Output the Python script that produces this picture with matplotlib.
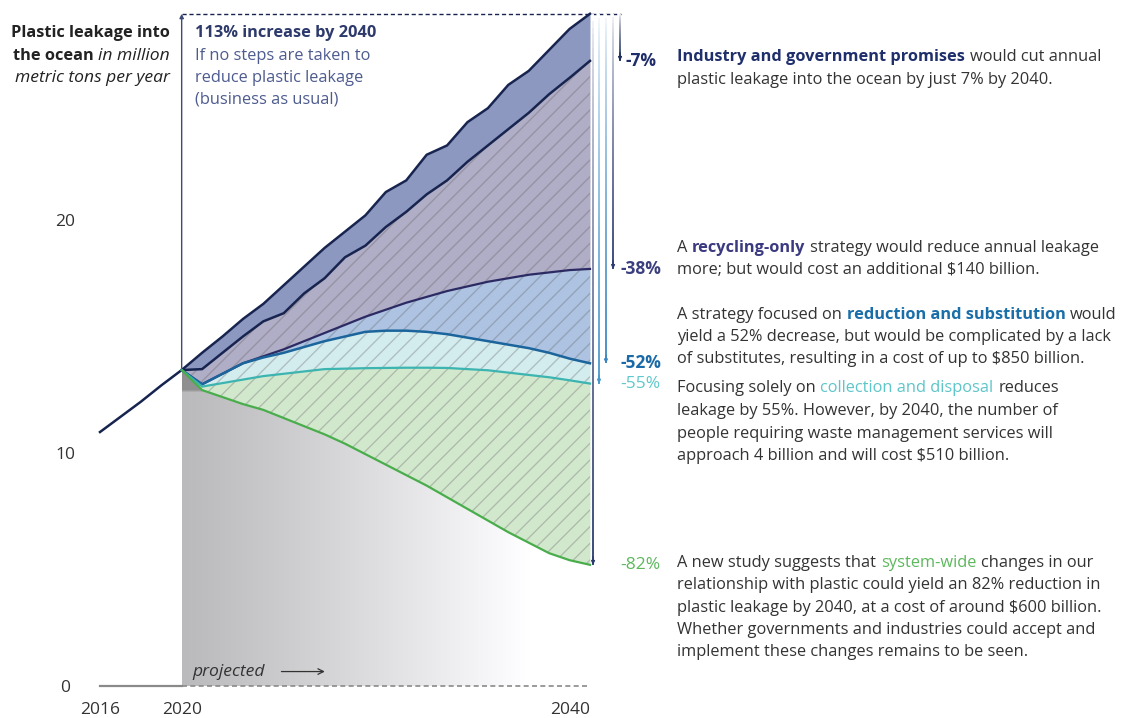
import numpy as np
import matplotlib
matplotlib.use("Agg")
import matplotlib.pyplot as plt
from matplotlib.collections import LineCollection
from matplotlib.colors import to_rgb
from matplotlib.patches import Polygon

# historical leakage, million metric tons per year
hist_years = [2016, 2017, 2018, 2019, 2020]
hist_values = [10.9, 11.55, 12.2, 12.9, 13.56]

# projections 2020-2040
years = list(range(2020, 2041))
bau = [13.56, 14.3, 15.0, 15.75, 16.4, 17.2, 18.0, 18.8, 19.5, 20.2, 21.2,
       21.7, 22.8, 23.2, 24.2, 24.8, 25.8, 26.4, 27.3, 28.2, 28.85]
industry = [13.56, 13.6, 14.3, 15.0, 15.65, 16.0, 16.85, 17.5, 18.4, 18.9, 19.7,
            20.35, 21.1, 21.7, 22.5, 23.2, 23.9, 24.6, 25.4, 26.1, 26.83]
recycling = [13.56, 12.95, 13.4, 13.85, 14.15, 14.45, 14.8, 15.15, 15.5, 15.85, 16.15,
             16.45, 16.7, 16.95, 17.15, 17.35, 17.5, 17.65, 17.75, 17.85, 17.9]
reduction = [13.56, 12.95, 13.4, 13.85, 14.1, 14.3, 14.55, 14.8, 15.0, 15.2, 15.25,
             15.25, 15.2, 15.1, 14.95, 14.8, 14.65, 14.5, 14.3, 14.05, 13.85]
collection = [13.56, 12.85, 13.0, 13.15, 13.3, 13.4, 13.5, 13.6, 13.62, 13.64, 13.65,
              13.66, 13.66, 13.65, 13.6, 13.55, 13.45, 13.35, 13.25, 13.12, 12.98]
system = [13.56, 12.7, 12.4, 12.1, 11.85, 11.5, 11.15, 10.8, 10.4, 9.95, 9.5,
          9.05, 8.6, 8.1, 7.6, 7.1, 6.6, 6.15, 5.7, 5.4, 5.2]

change_labels = ["-7%", "-38%", "-52%", "-55%", "-82%"]
ytick_values = [0, 10, 20]
xtick_values = [2016, 2020, 2040]

NAVY = "#17244f"
TEXT = "#333333"
BODY = 11.8
ITAL = 12.6  # the italic cut runs narrow, so it gets a touch more size

plt.rcParams["font.family"] = ["Open Sans", "DejaVu Sans"]

W, H = 1124, 718
fig = plt.figure(figsize=(W / 100, H / 100), dpi=100)

# axes box in pixels and the scale of the plot area
ax_l, ax_r, ax_t, ax_b = 90, 660, 5, 690
px_year = 490 / 24
px_unit = 466 / 20
ax = fig.add_axes([ax_l / W, 1 - ax_b / H, (ax_r - ax_l) / W, (ax_b - ax_t) / H])
ax.set_xlim(2016 - (100 - ax_l) / px_year, 2016 + (ax_r - 100) / px_year)
ax.set_ylim(-(ax_b - 686) / px_unit, (686 - ax_t) / px_unit)
for s in ax.spines.values():
    s.set_visible(False)

# grey fade under the projections
nx, ny = 300, 120
gx = np.linspace(0, 1, nx)
gy = np.linspace(0, hist_values[-1], ny)
shade = 0.73 + 0.27 * np.clip(gx / 0.85, 0, 1) ** 1.1
img = np.repeat(shade[None, :], ny, axis=0)
img[gy > 12.75, :] -= 0.17
rgb = np.dstack([img, img, img * 1.01]).clip(0, 1)
im = ax.imshow(rgb, extent=[2020, 2040, 0, hist_values[-1]], origin="lower",
               aspect="auto", zorder=1, interpolation="bilinear")
clip = Polygon([(2020, 0)] + list(zip(years, system)) + [(2040, 0)],
               closed=True, transform=ax.transData, facecolor="none", edgecolor="none")
ax.add_patch(clip)
im.set_clip_path(clip)

# scenario bands
ax.fill_between(years, industry, bau, color="#8d98c0", lw=0, zorder=2)
ax.fill_between(years, recycling, industry, color="#b0adc6", lw=0, zorder=2)
ax.fill_between(years, reduction, recycling, color="#adc3e1", lw=0, zorder=2)
ax.fill_between(years, collection, reduction, color="#d3ecee", lw=0, zorder=2)
ax.fill_between(years, system, collection, color="#d2e8cd", lw=0, zorder=2)
ax.fill_between(years, system, industry, facecolor="none", edgecolor=(0.35, 0.35, 0.35, 0.3),
                hatch="//", lw=0, zorder=3)

ax.plot(hist_years, hist_values, color=NAVY, lw=1.8, zorder=5)
ax.plot(years, bau, color=NAVY, lw=1.8, zorder=5)
ax.plot(years, industry, color=NAVY, lw=1.8, zorder=5)
ax.plot(years, recycling, color="#2c2a63", lw=1.6, zorder=5)
ax.plot(years, reduction, color="#1b659c", lw=1.8, zorder=5)
ax.plot(years, collection, color="#3cb4b0", lw=1.6, zorder=5)
ax.plot(years, system, color="#4aad4c", lw=1.6, zorder=5)

# baseline and projection marker
ax.plot([hist_years[0], 2020], [0, 0], color="#8a8a8a", lw=1.6, zorder=4)
ax.plot([2020, 2040], [0, 0], color="#8a8a8a", lw=1.2, ls=(0, (3, 2)), zorder=4)
ax.text(2020.5, 0.62, "projected", style="italic", fontsize=ITAL, color=TEXT, va="center")
ax.annotate("", xy=(2027.15, 0.62), xytext=(2024.75, 0.62),
            arrowprops=dict(arrowstyle="->", color=TEXT, lw=0.9))

# business-as-usual rise
ax.plot([2020, 2041.5], [bau[-1], bau[-1]], color=NAVY, lw=1, ls=(0, (3, 2)), zorder=4)
ax.annotate("", xy=(2020, bau[-1]), xytext=(2020, hist_values[-1]),
            arrowprops=dict(arrowstyle="-|>", color="#3d4a78", lw=1, mutation_scale=6,
                            shrinkA=0, shrinkB=0), zorder=4)


def fade_arrow(x, y0, y1, color):
    n = 80
    ys = np.linspace(y0, y1, n + 1)
    segs = [[(x, ys[i]), (x, ys[i + 1])] for i in range(n)]
    c = np.array(to_rgb(color))
    t = np.linspace(0, 1, n) ** 0.6
    cols = (1 - t)[:, None] * np.ones(3) + t[:, None] * c
    ax.add_collection(LineCollection(segs, colors=cols, lw=1.3, zorder=4))
    ax.annotate("", xy=(x, y1), xytext=(x, y1 + 0.35),
                arrowprops=dict(arrowstyle="-|>", color=color, lw=1, mutation_scale=5,
                                shrinkA=0, shrinkB=0), zorder=4)


ends = [industry[-1], recycling[-1], reduction[-1], collection[-1], system[-1]]
arrow_x = [2041.47, 2041.13, 2040.78, 2040.44, 2040.15]
arrow_colors = ["#1f2d5c", "#2e3a72", "#3a86c2", "#4796cc", "#2a3a6e"]
label_colors = ["#1f2d6b", "#3b3f80", "#1a6aa8", "#5ec8cc", "#5cb85c"]
label_weights = ["bold", "bold", "bold", "normal", "normal"]
for xa, yend, ac, lab, lc, lw_ in zip(arrow_x, ends, arrow_colors, change_labels,
                                      label_colors, label_weights):
    fade_arrow(xa, bau[-1], yend, ac)
    ax.text(2041.5 if lab != "-7%" else 2041.75, yend, lab, color=lc, fontsize=12.5,
            weight=lw_, va="center", ha="left")

ax.set_xticks(xtick_values)
ax.set_xticklabels([str(v) for v in xtick_values])
ax.set_yticks(ytick_values)
ax.set_yticklabels([str(v) for v in ytick_values])
ax.tick_params(length=0, labelsize=12.5, labelcolor=TEXT)
ax.tick_params(axis="x", pad=9)
ax.tick_params(axis="y", pad=18)
for t in ax.get_yticklabels():
    t.set_ha("center")
ax.get_xticklabels()[-1].set_ha("right")


def fx(px):
    return px / W


def fy(py):
    return 1 - py / H


def rich_line(x, y, parts, size=BODY, gap=3.4):
    last = None
    for text, color, weight, style in parts:
        kw = dict(color=color, weight=weight, style=style, fontsize=size)
        if last is None:
            last = fig.text(fx(x), fy(y), text, va="center", ha="left", **kw)
        else:
            last = ax.annotate(text, xy=(1, 0), xycoords=last, xytext=(gap, 0),
                               textcoords="offset points", va="bottom", ha="left",
                               annotation_clip=False, **kw)


def plain(text, color=TEXT, weight="normal", style="normal"):
    return (text, color, weight, style)


# axis title, right aligned
fig.text(fx(170), fy(33), "Plastic leakage into", ha="right", va="center",
         fontsize=BODY, weight="bold", color="#222222")
t2 = fig.text(fx(170), fy(56), "in million", ha="right", va="center",
              fontsize=ITAL, style="italic", color="#222222")
ax.annotate("the ocean", xy=(0, 0), xycoords=t2, xytext=(-3.4, 0), textcoords="offset points",
            ha="right", va="bottom", fontsize=BODY, weight="bold", color="#222222",
            annotation_clip=False)
fig.text(fx(170), fy(78), "metric tons per year", ha="right", va="center",
         fontsize=ITAL, style="italic", color="#222222")

# business-as-usual note
fig.text(fx(195), fy(33), "113% increase by 2040", fontsize=BODY, weight="bold",
         color="#2d3a6b", va="center")
for py, line in zip([56, 78, 100], ["If no steps are taken to", "reduce plastic leakage",
                                    "(business as usual)"]):
    fig.text(fx(195), fy(py), line, fontsize=BODY, color="#4d5b8f", va="center")

# scenario notes
rich_line(677, 57, [plain("Industry and government promises", "#1f2f6b", "bold"),
                    plain("would cut annual")])
rich_line(677, 80, [plain("plastic leakage into the ocean by just 7% by 2040.")])

rich_line(677, 248, [plain("A"), plain("recycling-only", "#3b3a80", "bold"),
                     plain("strategy would reduce annual leakage")])
rich_line(677, 270, [plain("more; but would cost an additional $140 billion.")])

rich_line(677, 315, [plain("A strategy focused on"),
                     plain("reduction and substitution", "#1a6fa8", "bold"), plain("would")])
rich_line(677, 337, [plain("yield a 52% decrease, but would be complicated by a lack")])
rich_line(677, 359, [plain("of substitutes, resulting in a cost of up to $850 billion.")])

rich_line(677, 388, [plain("Focusing solely on"), plain("collection and disposal", "#5ec6c9"),
                     plain("reduces")])
rich_line(677, 411, [plain("leakage by 55%. However, by 2040, the number of")])
rich_line(677, 434, [plain("people requiring waste management services will")])
rich_line(677, 456, [plain("approach 4 billion and will cost $510 billion.")])

rich_line(677, 563, [plain("A new study suggests that"), plain("system-wide", "#5cb85c"),
                     plain("changes in our")])
rich_line(677, 585, [plain("relationship with plastic could yield an 82% reduction in")])
rich_line(677, 608, [plain("plastic leakage by 2040, at a cost of around $600 billion.")])
rich_line(677, 630, [plain("Whether governments and industries could accept and")])
rich_line(677, 652, [plain("implement these changes remains to be seen.")])

fig.savefig("out.png", dpi=100)
